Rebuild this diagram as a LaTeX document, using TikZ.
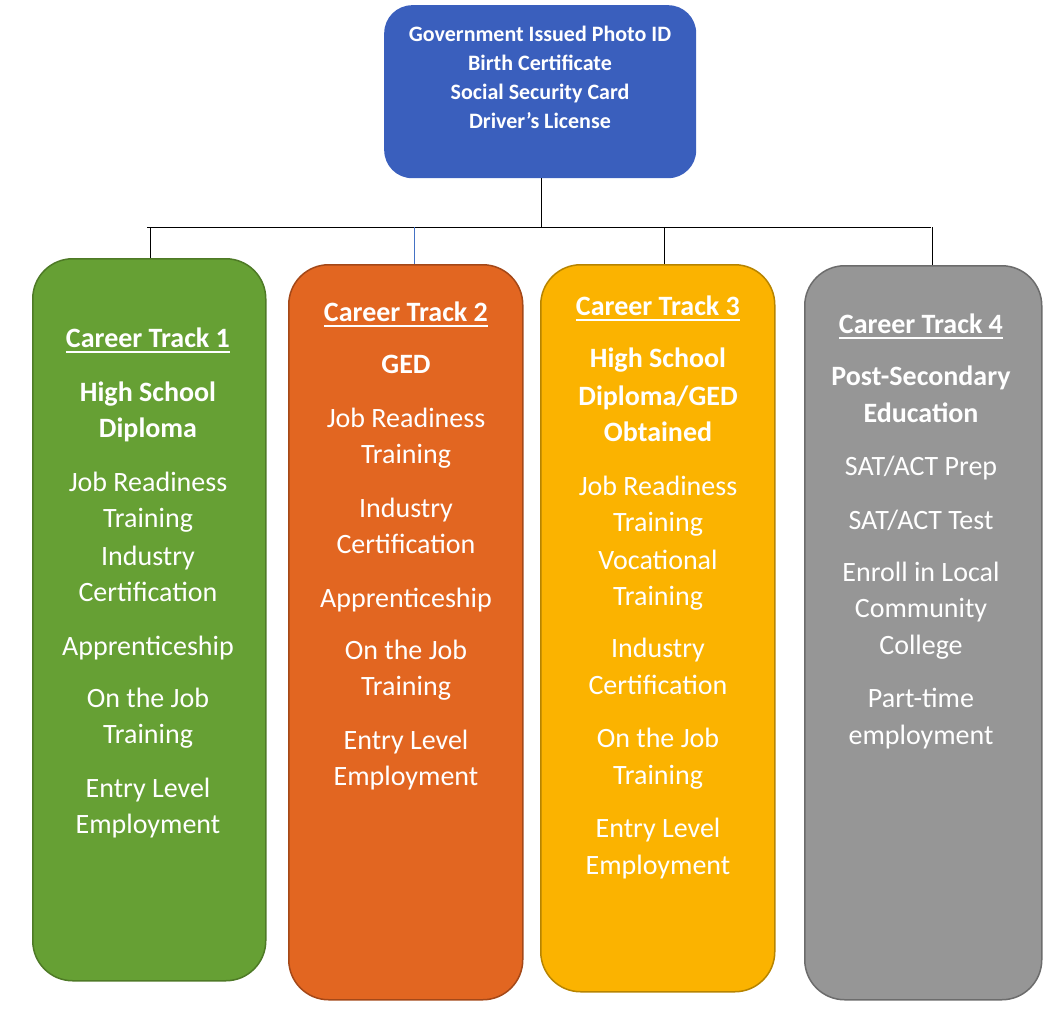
\documentclass[tikz,border=0pt]{standalone}
\usepackage{fontspec}
\setmainfont{Carlito}
\definecolor{gfill}{RGB}{102,160,52}
\definecolor{gline}{RGB}{78,122,38}
\definecolor{ofill}{RGB}{226,102,33}
\definecolor{oline}{RGB}{164,72,24}
\definecolor{yfill}{RGB}{251,179,0}
\definecolor{yline}{RGB}{183,132,0}
\definecolor{afill}{RGB}{150,150,150}
\definecolor{aline}{RGB}{108,108,108}
\definecolor{bfill}{RGB}{58,95,189}
\definecolor{bconn}{RGB}{68,114,196}
\tikzset{
  trackbox/.style={rounded corners=40bp, line width=1.5bp, inner sep=0pt, anchor=north west},
  txt/.style={text=white, inner sep=0pt, anchor=base, font=\fontsize{28bp}{36bp}\selectfont},
  btxt/.style={txt, font=\fontsize{28bp}{36bp}\selectfont\bfseries},
  toptxt/.style={text=white, inner sep=0pt, anchor=base, font=\fontsize{22bp}{29bp}\selectfont\bfseries},
  conn/.style={line width=1bp, black},
  uline/.style={white, line width=2bp}
}
\begin{document}
\begin{tikzpicture}[x=1bp,y=-1bp]
\useasboundingbox (0,0) rectangle (1064,1010);
% top box
\node[fill=bfill, rounded corners=28bp, inner sep=0pt, anchor=north west,
      minimum width=312bp, minimum height=173bp] (top) at (384,5) {};
\node[toptxt] (top1) at (540,41) {Government Issued Photo ID};
\node[toptxt] (top2) at (540,70) {Birth Certificate};
\node[toptxt] (top3) at (540,99) {Social Security Card};
\node[toptxt] (top4) at (540,128) {Driver’s License};
% track boxes
\node[trackbox, fill=gfill, draw=gline, minimum width=233bp, minimum height=722bp] (t1) at (32,258) {};
\node[trackbox, fill=ofill, draw=oline, minimum width=234bp, minimum height=735bp] (t2) at (288,264) {};
\node[trackbox, fill=yfill, draw=yline, minimum width=234bp, minimum height=727bp] (t3) at (540,264) {};
\node[trackbox, fill=afill, draw=aline, minimum width=237bp, minimum height=734bp] (t4) at (804,265) {};
% connectors
\coordinate (bl) at (147,227);
\coordinate (br) at (931,227);
\coordinate (b1) at (150,227);
\coordinate (b2) at (414,227);
\coordinate (b3) at (664,227);
\coordinate (b4) at (932,227);
\draw[conn] (top.south -| 541,0) -- (541,227);
\draw[conn] (bl) -- (br);
\draw[conn] (b1) -- (b1 |- t1.north);
\draw[line width=1bp, bconn] (b2) -- (b2 |- t2.north);
\draw[conn] (b3) -- (b3 |- t3.north);
\draw[conn] (b4) -- (b4 |- t4.north);
% Track 1
\node[btxt] (h1) at (148,347) {Career Track 1};
\draw[uline] ([yshift=-5bp]h1.base west) -- ([yshift=-5bp]h1.base east);
\node[btxt] (a1) at (148,401) {High School};
\node[btxt] (a2) at (148,437) {Diploma};
\node[txt] (a3) at (148,491) {Job Readiness};
\node[txt] (a4) at (148,527) {Training};
\node[txt] (a5) at (148,565) {Industry};
\node[txt] (a6) at (148,601) {Certification};
\node[txt] (a7) at (148,655) {Apprenticeship};
\node[txt] (a8) at (148,707) {On the Job};
\node[txt] (a9) at (148,743) {Training};
\node[txt] (a10) at (148,797) {Entry Level};
\node[txt] (a11) at (148,833) {Employment};
% Track 2
\node[btxt] (h2) at (406,321) {Career Track 2};
\draw[uline] ([yshift=-5bp]h2.base west) -- ([yshift=-5bp]h2.base east);
\node[btxt] (c1) at (406,373) {GED};
\node[txt] (c2) at (406,427) {Job Readiness};
\node[txt] (c3) at (406,463) {Training};
\node[txt] (c4) at (406,517) {Industry};
\node[txt] (c5) at (406,553) {Certification};
\node[txt] (c6) at (406,607) {Apprenticeship};
\node[txt] (c7) at (406,659) {On the Job};
\node[txt] (c8) at (406,695) {Training};
\node[txt] (c9) at (406,749) {Entry Level};
\node[txt] (c10) at (406,785) {Employment};
% Track 3
\node[btxt] (h3) at (658,315) {Career Track 3};
\draw[uline] ([yshift=-5bp]h3.base west) -- ([yshift=-5bp]h3.base east);
\node[btxt] (d1) at (658,367) {High School};
\node[btxt] (d2) at (658,405) {Diploma/GED};
\node[btxt] (d3) at (658,441) {Obtained};
\node[txt] (d4) at (658,495) {Job Readiness};
\node[txt] (d5) at (658,531) {Training};
\node[txt] (d6) at (658,569) {Vocational};
\node[txt] (d7) at (658,605) {Training};
\node[txt] (d8) at (658,657) {Industry};
\node[txt] (d9) at (658,694) {Certification};
\node[txt] (d10) at (658,747) {On the Job};
\node[txt] (d11) at (658,784) {Training};
\node[txt] (d12) at (658,837) {Entry Level};
\node[txt] (d13) at (658,874) {Employment};
% Track 4
\node[btxt] (h4) at (921,333) {Career Track 4};
\draw[uline] ([yshift=-5bp]h4.base west) -- ([yshift=-5bp]h4.base east);
\node[btxt] (e1) at (921,385) {Post-Secondary};
\node[btxt] (e2) at (921,422) {Education};
\node[txt] (e3) at (921,475) {SAT/ACT Prep};
\node[txt] (e4) at (921,529) {SAT/ACT Test};
\node[txt] (e5) at (921,581) {Enroll in Local};
\node[txt] (e6) at (921,617) {Community};
\node[txt] (e7) at (921,654) {College};
\node[txt] (e8) at (921,707) {Part-time};
\node[txt] (e9) at (921,744) {employment};
\end{tikzpicture}
\end{document}
